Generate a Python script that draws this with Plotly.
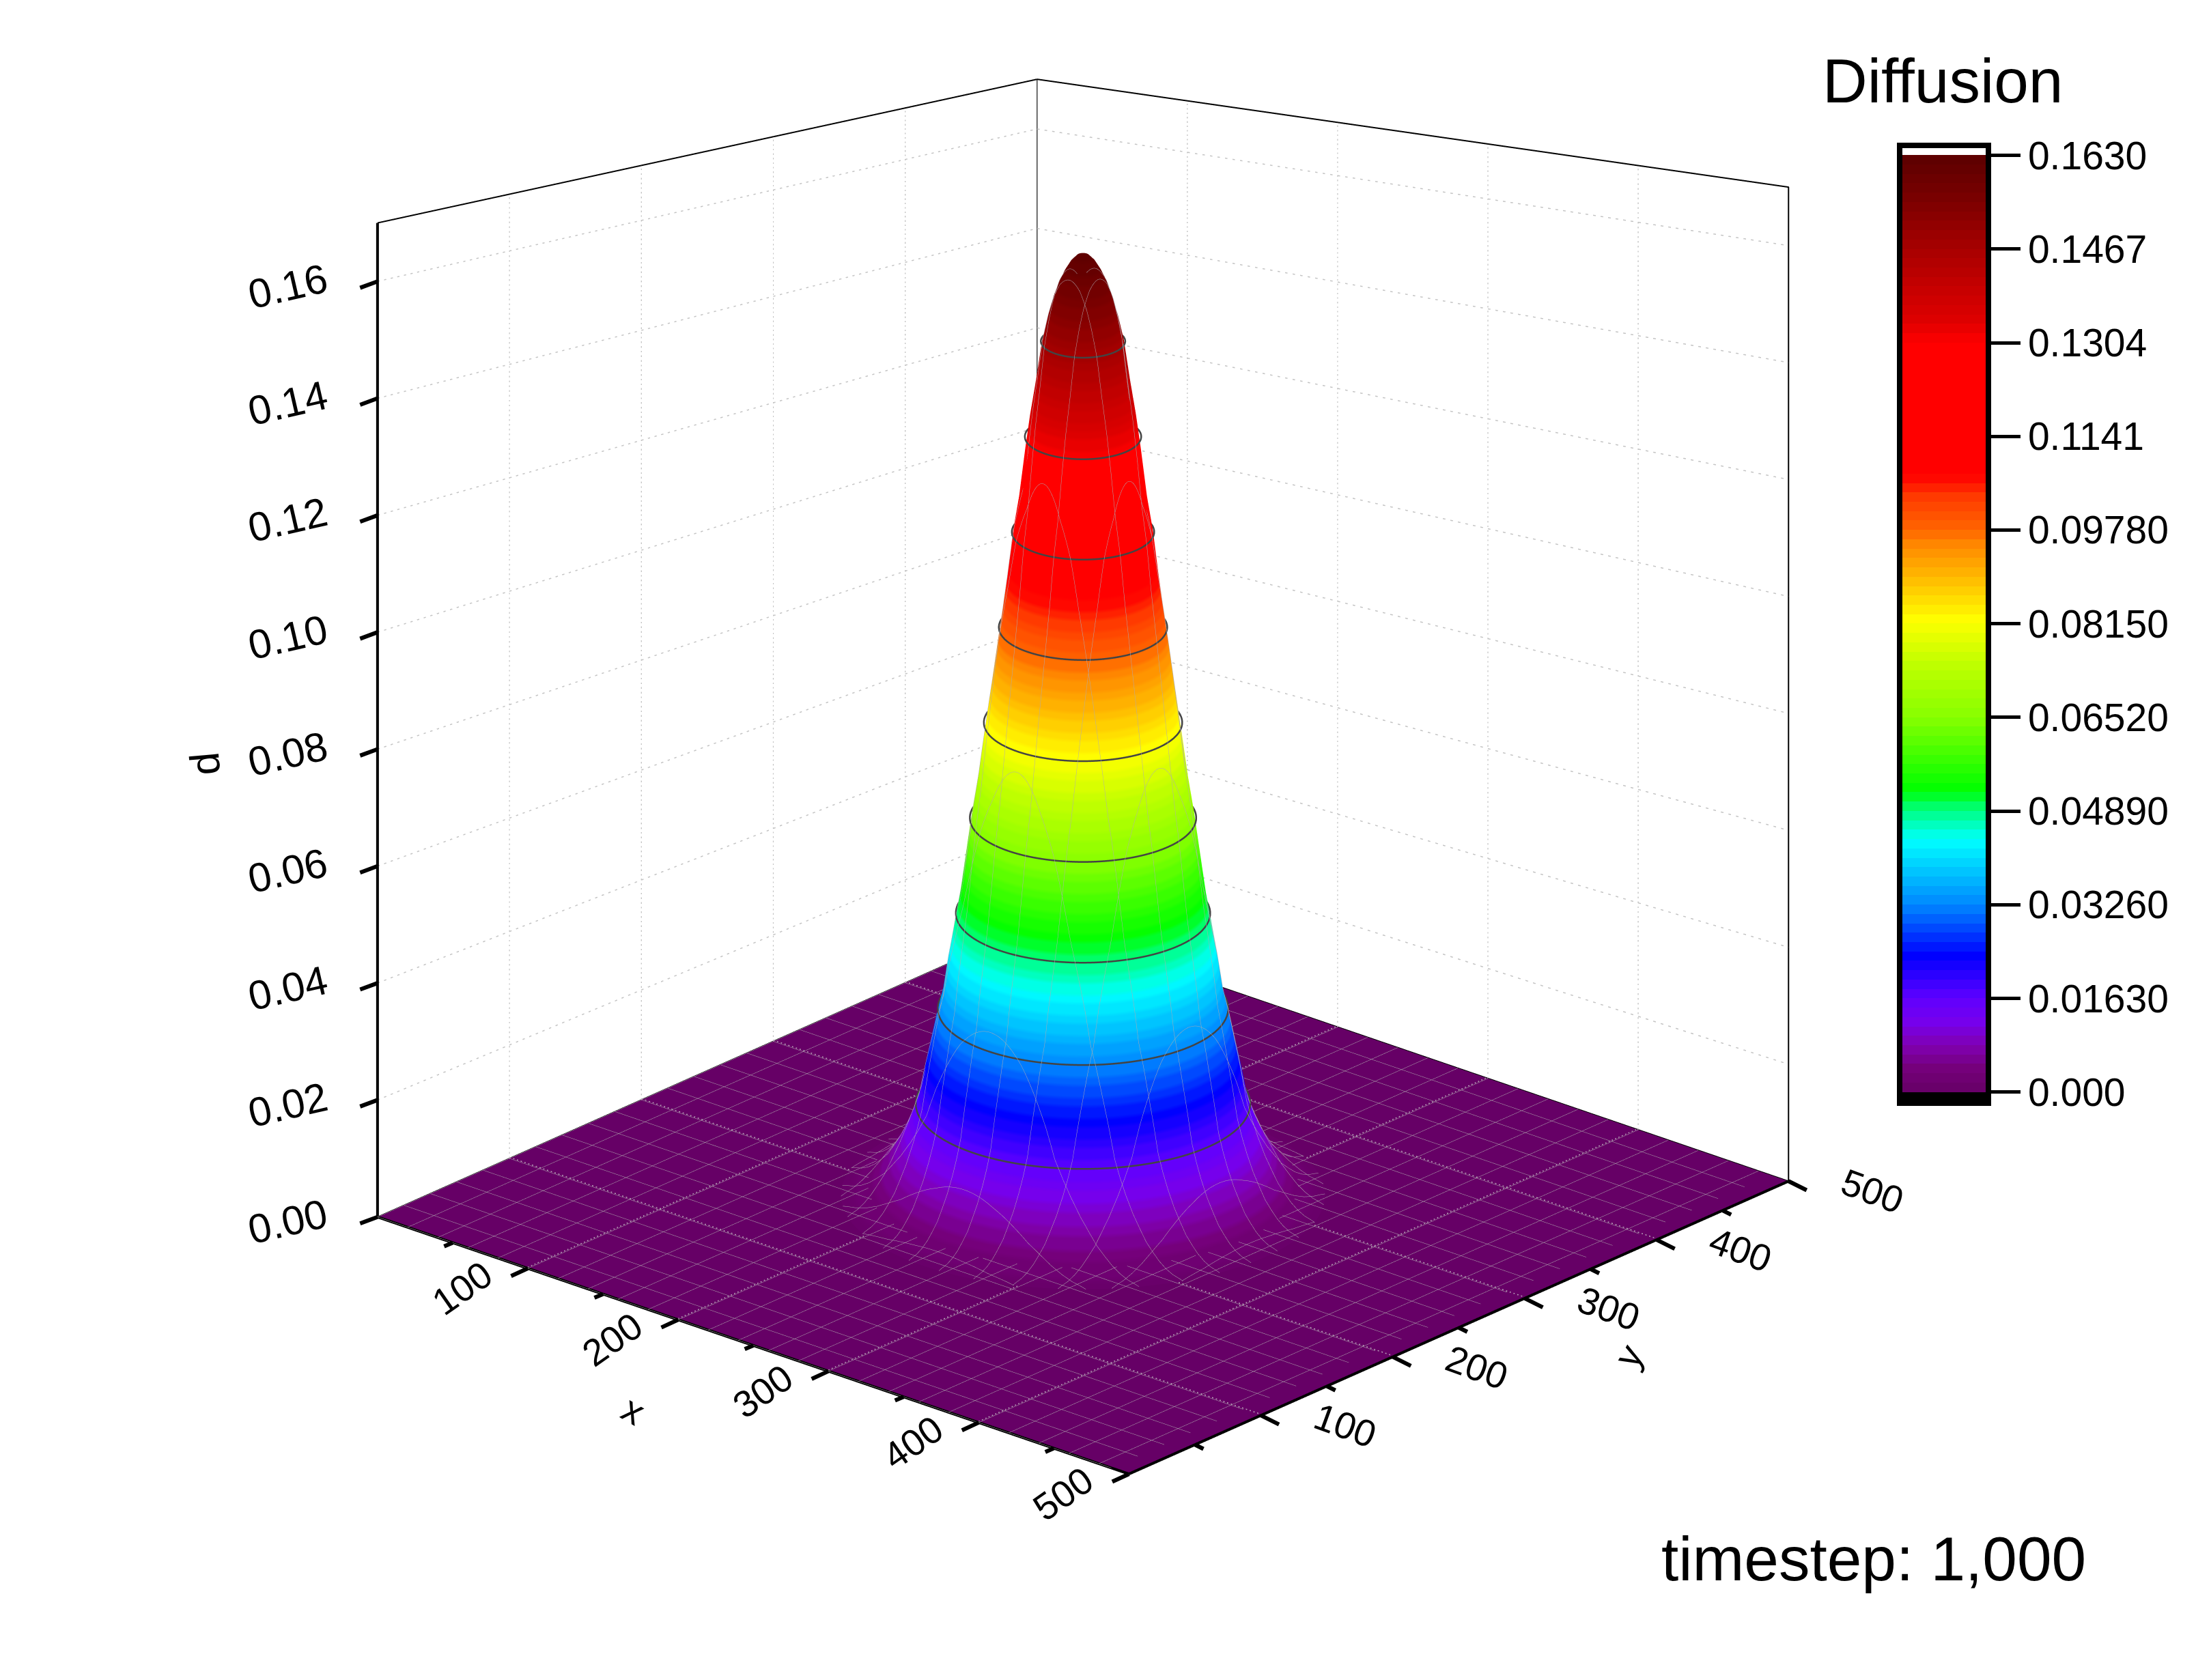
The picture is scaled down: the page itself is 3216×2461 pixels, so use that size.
import numpy as np
import plotly.graph_objects as go

# radial profile of the peak (distance from centre, d)
ring_r = [0, 3, 6, 9, 12, 15, 17.5, 20.5, 23.5, 26.5, 29, 32, 35, 38, 41, 44, 47, 50, 52.5, 55.5, 58.5, 61.5, 64.5,
          67.5, 70, 73, 76, 79, 82, 85, 88, 92, 96, 99.5, 103.5, 107, 111, 115, 119, 121]
ring_d = [.1618, .1614, .1604, .1588, .1568, .1540, .1510, .1467, .1400, .1340, .1280, .1200, .1141, .1060,
          .0990, .0920, .0850, .0780, .0720, .0660, .0590, .0520, .0465, .0410, .0355, .0315, .0270, .0225,
          .0175, .0145, .0120, .0092, .0070, .0052, .0038, .0027, .0018, .0012, .0009, .0007]
centre = 250

# contour rings: level and its radius
level_d = [0.0163, 0.0326, 0.0489, 0.0652, 0.0815, 0.0978, 0.1141, 0.1304, 0.1467]
level_r = [83, 72, 63, 56, 49, 41.5, 35, 28.5, 20.5]

x_ticks = [100, 200, 300, 400, 500]
y_ticks = [100, 200, 300, 400, 500]
xy_minor = [50, 150, 250, 350, 450]
d_ticks = [0.00, 0.02, 0.04, 0.06, 0.08, 0.10, 0.12, 0.14, 0.16]
cbar_ticks = [0, 0.0163, 0.0326, 0.0489, 0.0652, 0.0815, 0.0978, 0.1141, 0.1304, 0.1467, 0.163]
cbar_labels = ["0.000", "0.01630", "0.03260", "0.04890", "0.06520", "0.08150", "0.09780", "0.1141", "0.1304",
               "0.1467", "0.1630"]

# colour anchors of the stepped palette
pal_z = [0, .004, .008, .012, .0163, .0237, .0326, .0438, .0491, .0525, .0652, .075, .0821, .0906, .0949, .0978,
         .1034, .1073, .1304, .134, .1467, .155, .163]
pal_rgb = [(102, 0, 102), (117, 0, 122), (128, 0, 176), (120, 0, 236), (96, 0, 255), (0, 0, 255), (0, 136, 255),
           (0, 255, 255), (0, 255, 128), (0, 255, 0), (136, 255, 0), (196, 255, 0), (255, 255, 0), (255, 176, 0),
           (255, 140, 0), (255, 102, 0), (255, 60, 0), (255, 0, 0), (255, 0, 0), (224, 0, 0), (168, 0, 0),
           (124, 0, 0), (92, 0, 0)]
cmin, cmax = -0.00195, 0.1647
n_levels = 100


def norm(v):
    return (v - cmin) / (cmax - cmin)


scale = [[0, "black"], [norm(0), "black"]]
edges = np.linspace(0, 0.163, n_levels + 1)
pal = np.array(pal_rgb, float)
for lo, hi in zip(edges[:-1], edges[1:]):
    mid = (lo + hi) / 2
    c = "rgb(%d,%d,%d)" % tuple(np.interp(mid, pal_z, pal[:, i]) for i in range(3))
    scale += [[norm(lo), c], [norm(hi), c]]
scale += [[norm(0.163), "white"], [1, "white"]]

theta = np.linspace(0, 2 * np.pi, 181)
rr, tt = np.meshgrid(np.array(ring_r, float), theta)
peak_x = centre + rr * np.cos(tt)
peak_y = centre + rr * np.sin(tt)
peak_z = np.tile(np.array(ring_d), (len(theta), 1))

flat = dict(ambient=1, diffuse=0, specular=0, roughness=1, fresnel=0)
mesh = dict(show=True, start=0, end=500, size=20, color="#b0aab0", width=2, highlight=False)

fig = go.Figure()
fig.add_trace(go.Surface(x=[0, 500], y=[0, 500], z=[[0, 0], [0, 0]], surfacecolor=[[0, 0], [0, 0]],
                         colorscale=[[0, "#660066"], [1, "#660066"]], showscale=False, lighting=flat,
                         hoverinfo="skip", contours=dict(x=mesh, y=mesh)))
fig.add_trace(go.Surface(x=peak_x, y=peak_y, z=peak_z, colorscale=scale, cmin=cmin, cmax=cmax, lighting=flat,
                         hoverinfo="skip",
                         contours=dict(x=mesh, y=mesh),
                         colorbar=dict(x=0.8625, xanchor="left", y=0.3465, yanchor="bottom", len=0.57, thickness=130,
                                       xpad=0, ypad=0,
                                       outlinewidth=8, outlinecolor="black", tickvals=cbar_ticks, ticktext=cbar_labels,
                                       ticks="outside", ticklen=43, tickwidth=5, tickcolor="black",
                                       tickfont=dict(family="Liberation Sans", size=57, color="black"))))


def edge(xs, ys, zs, width, color="black", dash="solid"):
    fig.add_trace(go.Scatter3d(x=xs, y=ys, z=zs, mode="lines", line=dict(color=color, width=width, dash=dash),
                               hoverinfo="skip", showlegend=False))


zt = 0.17
# the walls get shorter towards the back corner, the source picture is in perspective
back = 0.85


def top_left(y):
    return 1 - (1 - back) * y / 500


def top_right(x):
    return back + (1 - back) * x / 500


# dotted grid on the walls and the floor
for v in x_ticks[:-1]:
    edge([v, v], [500, 500], [0, zt * top_right(v)], 3, "#c4c4c4", "dot")
    edge([v, v], [0, 500], [0.0002, 0.0002], 3, "#b9a0b9", "dot")
for v in y_ticks[:-1]:
    edge([0, 0], [v, v], [0, zt * top_left(v)], 3, "#c4c4c4", "dot")
    edge([0, 500], [v, v], [0.0002, 0.0002], 3, "#b9a0b9", "dot")
for v in d_ticks[1:]:
    edge([0, 0, 500], [0, 500, 500], [v, v * back, v], 3, "#c4c4c4", "dot")
# frame of the box
edge([0, 0, 500, 500], [0, 500, 500, 500], [zt, zt * back, zt, 0], 4)
edge([0, 0], [500, 500], [0, zt * back], 4)
edge([0, 0, 500], [0, 500, 500], [0, 0, 0], 4)
# heavy axes
edge([0, 0], [0, 0], [0, zt], 8)
edge([0, 500], [0, 0], [0, 0], 8)
edge([500, 500], [0, 500], [0, 0], 8)
# contour rings on the peak
for lev, rad in zip(level_d, level_r):
    edge(centre + (rad + 0.6) * np.cos(theta), centre + (rad + 0.6) * np.sin(theta), [lev] * len(theta), 5, "#444444")


def tick(x, y, z, ax, ay):
    return dict(x=x, y=y, z=z, text=" ", showarrow=True, arrowhead=0, arrowwidth=6, arrowcolor="black", ax=ax, ay=ay,
                standoff=0, font=dict(size=1))


notes = []
tick_font = dict(family="Liberation Sans", size=55, color="black")
for v in x_ticks:
    notes.append(tick(v, 0, 0, -26, 12))
    notes.append(dict(x=v, y=0, z=0, text=str(v), textangle=-35, xshift=-96, yshift=-29, showarrow=False, font=tick_font))
for v in xy_minor:
    notes.append(tick(v, 0, 0, -14, 6))
    notes.append(tick(500, v, 0, 14, 7))
for v in y_ticks:
    notes.append(tick(500, v, 0, 28, 14))
    notes.append(dict(x=500, y=v, z=0, text=str(v), textangle=20, xshift=123, yshift=-15, showarrow=False, font=tick_font))
for v in d_ticks:
    notes.append(tick(0, 0, v, -27, 10))
    notes.append(dict(x=0, y=0, z=v, text="%.2f" % v, textangle=-13, xshift=-131, yshift=-7, showarrow=False,
                      font=dict(family="Liberation Sans", size=60, color="black")))
notes.append(dict(x=250, y=0, z=0, text="x", textangle=30, xshift=-175, yshift=-95, showarrow=False, font=tick_font))
notes.append(dict(x=500, y=250, z=0, text="y", textangle=-60, xshift=249, yshift=-41, showarrow=False, font=tick_font))
notes.append(dict(x=0, y=0, z=0.085, text="d", textangle=-95, xshift=-252, yshift=-64, showarrow=False,
                  font=dict(family="Liberation Sans", size=60, color="black")))

axis = dict(showbackground=True, backgroundcolor="white", showgrid=False, zeroline=False, showline=False,
            title=dict(text=""), showticklabels=False, ticks="", showspikes=False)

fig.update_layout(
    width=3216, height=2461, paper_bgcolor="white", showlegend=False, margin=dict(l=0, r=0, t=0, b=0),
    scene=dict(
        domain=dict(x=[0, 1], y=[0, 1]),
        xaxis=dict(axis, range=[0, 500]),
        yaxis=dict(axis, range=[0, 500]),
        zaxis=dict(axis, range=[0, zt]),
        aspectmode="manual", aspectratio=dict(x=1.19, y=1.19, z=1.285),
        camera=dict(eye=dict(x=2.432, y=-2.734, z=1.363), center=dict(x=0.0622, y=-0.034, z=-0.1572),
                    up=dict(x=0, y=0, z=1), projection=dict(type="orthographic")),
        annotations=notes,
    ),
    annotations=[
        dict(x=2837 / 3216, y=1 - 110 / 2461, xref="paper", yref="paper", text="Diffusion", showarrow=False,
             xanchor="center", yanchor="middle", font=dict(family="Liberation Sans", size=91, color="black")),
        dict(x=2736 / 3216, y=1 - 2275 / 2461, xref="paper", yref="paper", text="timestep: 1,000", showarrow=False,
             xanchor="center", yanchor="middle", font=dict(family="Liberation Sans", size=91, color="black")),
    ],
)
fig.write_html("out.html")
